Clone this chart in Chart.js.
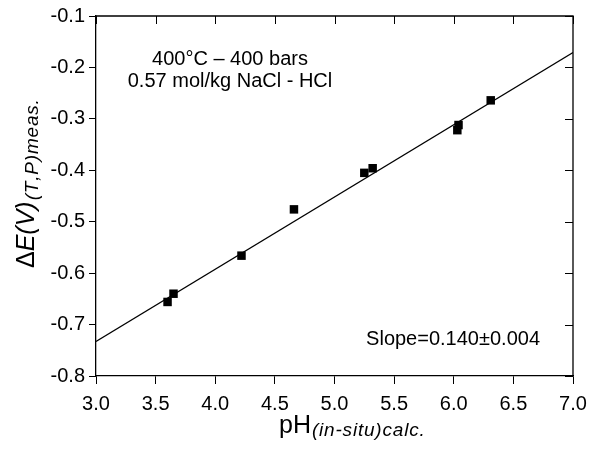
<!DOCTYPE html>
<html>
<head>
<meta charset="utf-8">
<script src="https://cdn.jsdelivr.net/npm/chart.js@4.4.1/dist/chart.umd.min.js"></script>
<style>
html,body{margin:0;padding:0;background:#fff;}
#wrap{width:592px;height:449px;}
</style>
</head>
<body>
<div id="wrap"><canvas id="c" width="592" height="449"></canvas></div>
<script>
// Data
const phValues = [3.60, 3.65, 4.22, 4.66, 5.25, 5.32, 6.03, 6.04, 6.31];
const deltaE   = [-0.656, -0.640, -0.566, -0.476, -0.405, -0.396, -0.322, -0.312, -0.264];
const fitX = [3.0, 7.0];
const fitY = [-0.733, -0.171];
const xTicks = [3.0, 3.5, 4.0, 4.5, 5.0, 5.5, 6.0, 6.5, 7.0];
const yTicks = [-0.8, -0.7, -0.6, -0.5, -0.4, -0.3, -0.2, -0.1];
const annotLines = ['400\u00B0C \u2013 400 bars', '0.57 mol/kg NaCl - HCl'];
const slopeText = 'Slope=0.140\u00B10.004';

const FONT = '"Liberation Sans", Arial, Helvetica, sans-serif';

function spacedText(ctx, str, x, y, spacing) {
  for (const ch of str) {
    ctx.fillText(ch, x, y);
    x += ctx.measureText(ch).width + spacing;
  }
  return x;
}

const framePlugin = {
  id: 'frame',
  afterDraw(chart) {
    const ctx = chart.ctx, a = chart.chartArea;
    const xs = chart.scales.x, ys = chart.scales.y;
    ctx.save();
    ctx.strokeStyle = '#000';
    ctx.lineWidth = 1.3;
    ctx.beginPath();
    ctx.moveTo(a.left, a.top); ctx.lineTo(a.right, a.top); ctx.lineTo(a.right, a.bottom);
    ctx.stroke();
    ctx.lineWidth = 1;
    ctx.beginPath();
    xTicks.forEach(v => { const px = Math.round(xs.getPixelForValue(v)) + 0.5; ctx.moveTo(px, a.top); ctx.lineTo(px, a.top + 8); });
    yTicks.forEach(v => { const py = Math.round(ys.getPixelForValue(v)) + 0.5; ctx.moveTo(a.right, py); ctx.lineTo(a.right - 8, py); });
    ctx.stroke();

    ctx.fillStyle = '#000';
    ctx.font = '20px ' + FONT;
    ctx.textAlign = 'center';
    ctx.textBaseline = 'alphabetic';
    ctx.fillText(annotLines[0], 230, 65);
    ctx.fillText(annotLines[1], 230, 87);
    ctx.textAlign = 'right';
    ctx.fillText(slopeText, 540, 345);

    // x title
    ctx.textAlign = 'left';
    let x = 279, base = 433;
    ctx.font = '25px ' + FONT;
    ctx.fillText('pH', x, base);
    x += ctx.measureText('pH').width + 1;
    ctx.font = 'italic 19px ' + FONT;
    spacedText(ctx, '(in-situ)calc.', x, base + 3, 0.8);

    // y title (rotated)
    ctx.translate(34, 268);
    ctx.rotate(-Math.PI / 2);
    let t = 0;
    ctx.font = '25px ' + FONT;
    ctx.fillText('\u0394', t, 0);
    t += ctx.measureText('\u0394').width;
    ctx.font = 'italic 25px ' + FONT;
    ctx.fillText('E(V)', t, 0);
    t += ctx.measureText('E(V)').width + 1;
    ctx.font = 'italic 19px ' + FONT;
    spacedText(ctx, '(T,P)meas.', t, 4, 0.8);
    ctx.restore();
  }
};

new Chart(document.getElementById('c'), {
  type: 'scatter',
  data: {
    datasets: [
      {
        label: 'fit',
        data: fitX.map((v, i) => ({x: v, y: fitY[i]})),
        showLine: true,
        borderColor: '#000',
        borderWidth: 1.3,
        pointRadius: 0,
        fill: false,
        order: 2
      },
      {
        label: 'measured',
        data: phValues.map((v, i) => ({x: v, y: deltaE[i]})),
        pointStyle: 'rect',
        pointRadius: 6,
        backgroundColor: '#000',
        borderColor: '#000',
        borderWidth: 0,
        order: 1
      }
    ]
  },
  options: {
    responsive: false,
    animation: false,
    layout: { padding: { top: 16, right: 19, left: 0, bottom: 0 } },
    plugins: { legend: { display: false }, tooltip: { enabled: false } },
    scales: {
      x: {
        type: 'linear', min: 3, max: 7,
        afterBuildTicks: s => { s.ticks = xTicks.map(v => ({value: v})); },
        ticks: { color: '#000', font: { size: 20, family: FONT }, padding: 8, maxRotation: 0,
                 callback: v => Number(v).toFixed(1) },
        grid: { drawOnChartArea: false, tickLength: 8, color: '#000', lineWidth: 1 },
        border: { color: '#000', width: 1.3 },
        afterFit: s => { s.height = 73; s.paddingLeft = 0; s.paddingRight = 0; }
      },
      y: {
        type: 'linear', min: -0.8, max: -0.1,
        afterBuildTicks: s => { s.ticks = yTicks.map(v => ({value: v})); },
        ticks: { color: '#000', font: { size: 20, family: FONT }, padding: 4,
                 callback: v => Number(v).toFixed(1) },
        grid: { drawOnChartArea: false, tickLength: 7, color: '#000', lineWidth: 1 },
        border: { color: '#000', width: 1.3 },
        afterFit: s => { s.width = 96; s.paddingTop = 0; s.paddingBottom = 0; }
      }
    }
  },
  plugins: [framePlugin]
});
</script>
</body>
</html>
